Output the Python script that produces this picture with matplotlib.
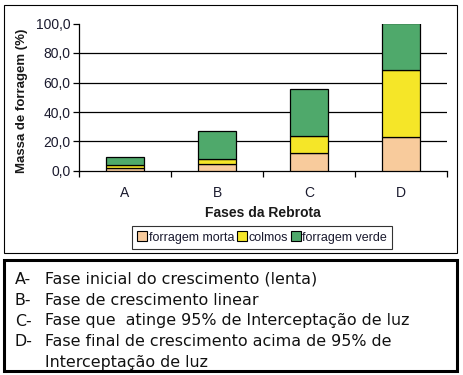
import matplotlib
matplotlib.use("Agg")
import matplotlib.pyplot as plt
from matplotlib.patches import Rectangle, Patch

plt.rcParams["font.family"] = ["Liberation Sans", "DejaVu Sans"]

fases = ["A", "B", "C", "D"]
forragem_morta = [2.0, 4.7, 12.2, 23.0]
colmos = [2.0, 3.4, 11.4, 45.2]
forragem_verde = [5.5, 18.7, 31.8, 31.8]
series_names = ["forragem morta", "colmos", "forragem verde"]
colors = ["#f8cb9c", "#f5e628", "#4fa96b"]
yticks = [0, 20, 40, 60, 80, 100]
notes = [
    ("A-", "Fase inicial do crescimento (lenta)"),
    ("B-", "Fase de crescimento linear"),
    ("C-", "Fase que  atinge 95% de Interceptação de luz"),
    ("D-", "Fase final de crescimento acima de 95% de"),
    ("", "Interceptação de luz"),
]

W, H = 463, 375
fig = plt.figure(figsize=(W / 100, H / 100), dpi=100)


def px(x0, y0, x1, y1):
    return [x0 / W, 1 - y1 / H, (x1 - x0) / W, (y1 - y0) / H]


# outer frames
fig.patches.append(Rectangle((4 / W, 1 - 253 / H), 453 / W, 248 / H, transform=fig.transFigure,
                             fill=False, edgecolor="black", linewidth=0.8))
fig.patches.append(Rectangle((4 / W, 1 - 371 / H), 453 / W, 111 / H, transform=fig.transFigure,
                             fill=False, edgecolor="black", linewidth=2.2))

ax = fig.add_axes(px(79, 23.5, 447, 171))
x = range(len(fases))
bottom = [0] * len(fases)
for vals, name, c in zip([forragem_morta, colmos, forragem_verde], series_names, colors):
    ax.bar(x, vals, bottom=bottom, width=0.41, color=c, edgecolor="black", linewidth=0.9,
           label=name, zorder=3)
    bottom = [b + v for b, v in zip(bottom, vals)]

ax.set_xlim(-0.5, 3.5)
ax.set_ylim(0, 100)
ax.set_yticks(yticks, [f"{t:.1f}".replace(".", ",") for t in yticks], fontsize=10, color="#1a1a2e")
ax.set_xticks([-0.5, 0.5, 1.5, 2.5, 3.5], [""] * 5)
ax.set_xticks(list(x), fases, minor=True, fontsize=10, color="#1a1a2e")
ax.tick_params(axis="x", which="minor", length=0, pad=11)
ax.tick_params(axis="x", which="major", length=4, width=0.9, direction="out")
ax.tick_params(axis="y", length=4, width=0.9, direction="out", pad=2)
for t in [20, 40, 60, 80]:
    ax.axhline(t, color="black", linewidth=0.9, zorder=1)
for s in ["top", "right"]:
    ax.spines[s].set_visible(False)
for s in ["left", "bottom"]:
    ax.spines[s].set_linewidth(0.9)

fig.text(22 / W, 1 - 101 / H, "Massa de forragem (%)", rotation=90, ha="center", va="center",
         fontsize=9.5, fontweight="bold", color="#1a1a1a")
fig.text(263 / W, 1 - 213 / H, "Fases da Rebrota", ha="center", va="center",
         fontsize=10, fontweight="bold", color="#1a1a1a")

handles = [Patch(facecolor=c, edgecolor="black", linewidth=0.8) for c in colors]
fig.legend(handles, series_names, loc="center", bbox_to_anchor=(262 / W, 1 - 237.5 / H),
           ncol=3, fontsize=9, frameon=True, fancybox=False, edgecolor="black",
           handlelength=0.8, handleheight=0.8, handletextpad=0.15, columnspacing=0.2,
           borderpad=0.4, borderaxespad=0, labelcolor="#1a1a2e").get_frame().set_linewidth(0.8)

baselines = [284, 305, 325.5, 346, 366.5]
for (lbl, txt), y in zip(notes, baselines):
    if lbl:
        fig.text(15 / W, 1 - y / H, lbl, ha="left", va="baseline", fontsize=11.4, color="#111",
                 family="DejaVu Sans")
    fig.text(45 / W, 1 - y / H, txt, ha="left", va="baseline", fontsize=11.4, color="#111",
             family="DejaVu Sans")

fig.savefig("out.png", dpi=100)
